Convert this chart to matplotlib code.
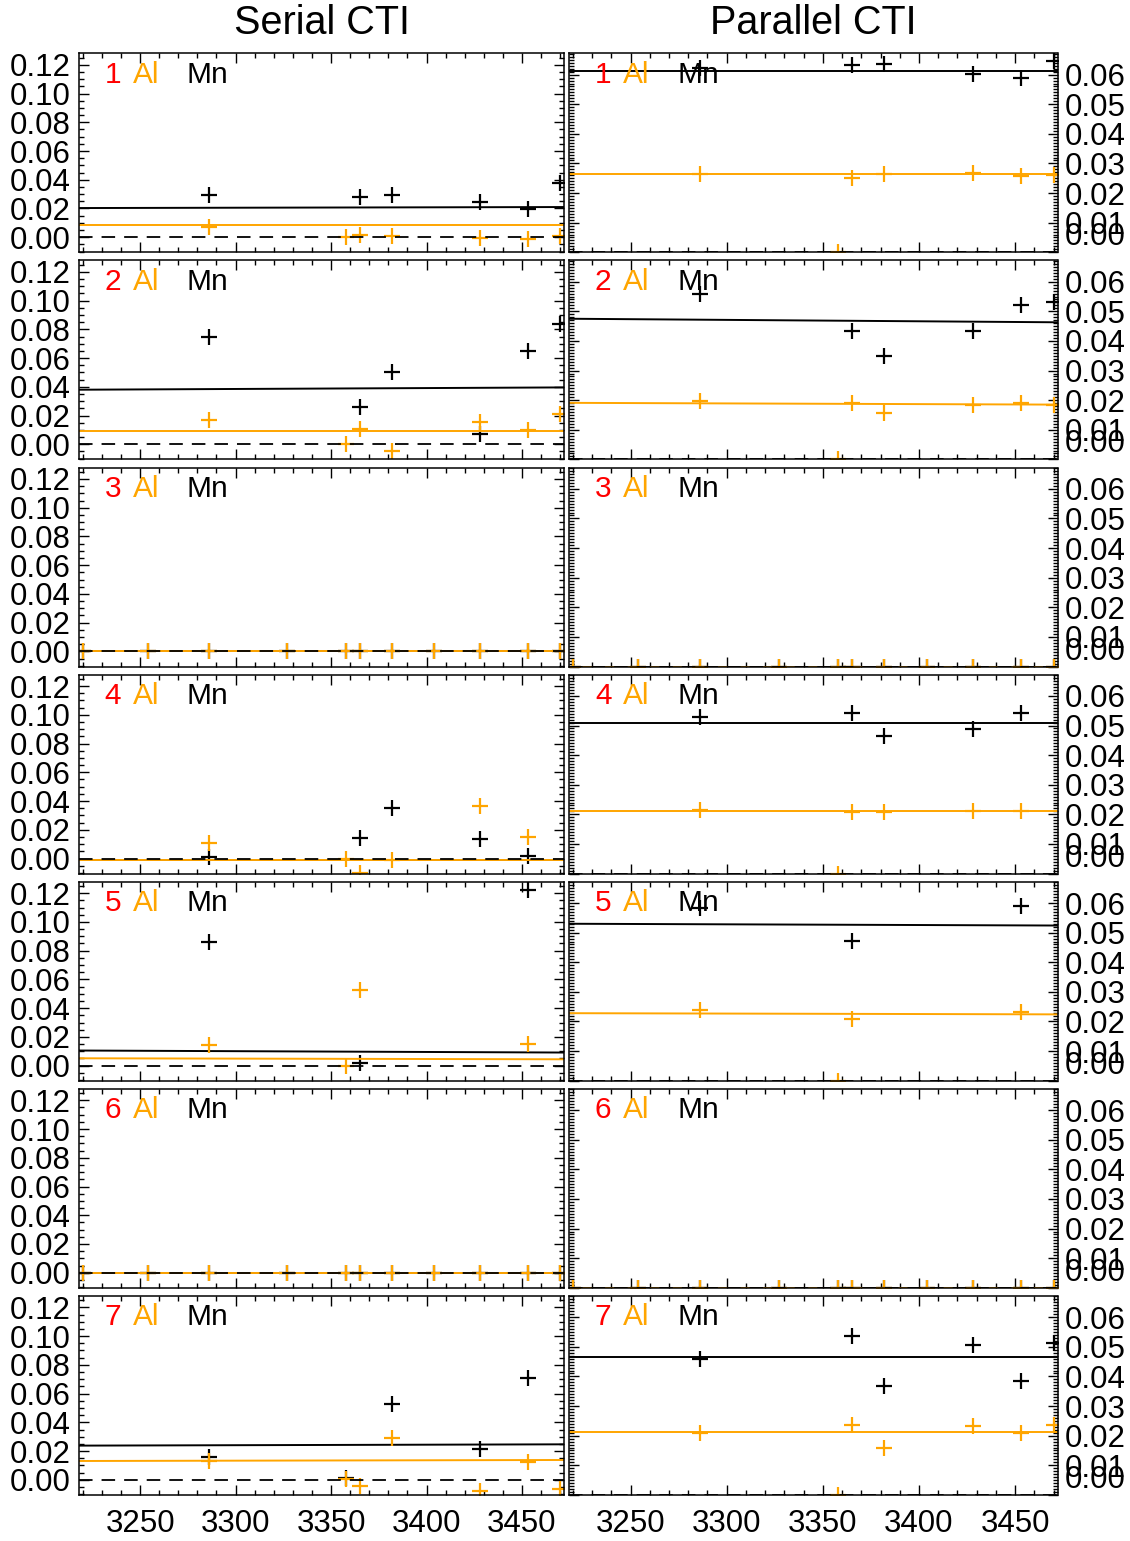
import numpy as np
import matplotlib.pyplot as plt
from matplotlib.ticker import MultipleLocator
from matplotlib.transforms import blended_transform_factory

plt.rcParams['font.family'] = ['Liberation Sans', 'DejaVu Sans']

n = np.nan

# observation dates (x) shared by every panel
xs = np.array([3220, 3254, 3286, 3327, 3358, 3365, 3382, 3404, 3428, 3453, 3470])
chips = ['1', '2', '3', '4', '5', '6', '7']
zeros = [0.0] * 11

# Serial CTI, Mn line
ser_mn = [
    [n, n, 0.0291, n, n, 0.0280, 0.0296, n, 0.0242, 0.0198, 0.0378],
    [n, n, 0.0750, n, n, 0.0263, 0.0504, n, 0.0075, 0.0652, 0.0837],
    zeros,
    [n, n, 0.0012, n, n, 0.0145, 0.0351, n, 0.0136, 0.0019, n],
    [n, n, 0.0861, n, n, 0.0021, n, n, n, 0.1223, n],
    zeros,
    [n, n, 0.0161, n, 0.0010, n, 0.0525, n, 0.0215, 0.0709, n],
]
# Serial CTI, Al line
ser_al = [
    [n, n, 0.0070, n, 0.0, 0.0012, 0.0005, n, -0.0005, -0.0012, 0.0007],
    [n, n, 0.0169, n, 0.0, 0.0106, -0.0049, n, 0.0152, 0.0103, 0.0211],
    zeros,
    [n, n, 0.0110, n, 0.0, -0.0098, -0.0012, n, 0.0363, 0.0147, n],
    [n, n, 0.0140, n, 0.0, 0.0525, n, n, n, 0.0152, n],
    zeros,
    [n, n, 0.0133, n, 0.0005, -0.0042, 0.0289, n, -0.0077, 0.0126, -0.0065],
]
# fitted lines: value at left and right end of the x range
ser_mn_fit = [(0.0203, 0.0210), (0.0380, 0.0396), (0, 0), (-0.0010, -0.0010),
              (0.0105, 0.0091), (0, 0), (0.0238, 0.0247)]
ser_al_fit = [(0.0082, 0.0082), (0.0096, 0.0096), (0, 0), (-0.0012, -0.0012),
              (0.0051, 0.0044), (0, 0), (0.0131, 0.0138)]

# Parallel CTI
par_mn = [
    [n, n, 0.0624, n, n, 0.0634, 0.0636, n, 0.0602, 0.0587, 0.0647],
    [n, n, 0.0557, n, n, 0.0435, 0.0348, n, 0.0435, 0.0522, 0.0531],
    zeros,
    [n, n, 0.0528, n, n, 0.0543, 0.0466, n, 0.0489, 0.0542, n],
    [n, n, 0.0583, n, n, 0.0471, n, n, n, 0.0590, n],
    zeros,
    [n, n, 0.0459, n, n, 0.0538, 0.0367, n, 0.0505, 0.0384, 0.0513],
]
par_al = [
    [n, n, 0.0264, n, 0.0, 0.0251, 0.0264, n, 0.0268, 0.0257, 0.0261],
    [n, n, 0.0196, n, 0.0, 0.0191, 0.0157, n, 0.0184, 0.0190, 0.0184],
    zeros,
    [n, n, 0.0216, n, 0.0, 0.0208, 0.0207, n, 0.0210, 0.0210, n],
    [n, n, 0.0238, n, 0.0, 0.0207, n, n, n, 0.0232, n],
    zeros,
    [n, n, 0.0208, n, 0.0, 0.0236, 0.0158, n, 0.0234, 0.0208, 0.0236],
]
par_mn_fit = [(0.0613, 0.0613), (0.0475, 0.0463), (0, 0), (0.0509, 0.0509),
              (0.0530, 0.0524), (0, 0), (0.0465, 0.0465)]
par_al_fit = [(0.0266, 0.0266), (0.0191, 0.0185), (0, 0), (0.0213, 0.0213),
              (0.0228, 0.0224), (0, 0), (0.0214, 0.0214)]

ser_ticks = [0.00, 0.02, 0.04, 0.06, 0.08, 0.10, 0.12]
par_ticks = [0.00, 0.01, 0.02, 0.03, 0.04, 0.05, 0.06]
x_ticks = [3250, 3300, 3350, 3400, 3450]

XL = (3218, 3472)
ORANGE = '#ffa500'
W, H = 1130, 1541
FS = 22.5

fig = plt.figure(figsize=(W / 100, H / 100), dpi=100)


def panel(ax, mn, al, mn_fit, al_fit, chip, ylim, right):
    ax.set_xlim(*XL)
    ax.set_ylim(*ylim)
    ax.plot(xs, mn, ls='none', marker='+', ms=11, mew=1.6, color='k')
    ax.plot(XL, mn_fit, color='k', lw=1.4)
    ax.plot(xs, al, ls='none', marker='+', ms=11, mew=1.6, color=ORANGE)
    ax.plot(XL, al_fit, color=ORANGE, lw=1.4)
    # zero reference, drawn on top
    ax.plot(XL, [0, 0], color='k', lw=1.3, ls=(0, (7.5, 5)), zorder=3)

    ax.xaxis.set_major_locator(MultipleLocator(50))
    ax.xaxis.set_minor_locator(MultipleLocator(10))
    ax.tick_params(which='both', direction='in', top=True, bottom=True,
                   left=True, right=True, labelsize=FS, width=1.0)
    ax.tick_params(which='major', length=7)
    ax.tick_params(which='minor', length=3.5)
    ax.tick_params(axis='x', pad=10)
    for s in ax.spines.values():
        s.set_linewidth(1.1)

    if right:
        ax.set_yticks(par_ticks)
        ax.set_yticklabels([''] + ['%.2f' % t for t in par_ticks[1:]])
        ax.yaxis.set_minor_locator(MultipleLocator(0.001))
        ax.tick_params(axis='y', labelleft=False, labelright=True, pad=5)
        tr = blended_transform_factory(ax.transAxes, ax.transData)
        ax.text(1.015, 0.0, '0.00', transform=tr, ha='left', va='bottom',
                fontsize=FS)
    else:
        ax.set_yticks(ser_ticks)
        ax.set_yticklabels(['%.2f' % t for t in ser_ticks])
        ax.yaxis.set_minor_locator(MultipleLocator(0.005))
        ax.tick_params(axis='y', pad=6)

    ax.text(0.053, 0.853, chip, color='red', fontsize=21.5, transform=ax.transAxes)
    ax.text(0.111, 0.853, 'Al', color=ORANGE, fontsize=21.5, transform=ax.transAxes)
    ax.text(0.222, 0.853, 'Mn', color='k', fontsize=21.5, transform=ax.transAxes)


for i in range(7):
    top = 53.3 + i * 207.1
    bot = 1 - (top + 199) / H
    axl = fig.add_axes([79 / W, bot, 485 / W, 199 / H])
    axr = fig.add_axes([569 / W, bot, 488.5 / W, 199 / H])
    panel(axl, ser_mn[i], ser_al[i], ser_mn_fit[i], ser_al_fit[i], chips[i],
          (-0.0105, 0.128), False)
    panel(axr, par_mn[i], par_al[i], par_mn_fit[i], par_al_fit[i], chips[i],
          (0.0, 0.0672), True)
    for ax in (axl, axr):
        ax.set_xticks(x_ticks)
        if i < 6:
            ax.tick_params(axis='x', labelbottom=False)

fig.text((79 + 485 / 2) / W, 1 - 23 / H, 'Serial CTI', ha='center', va='center',
         fontsize=28.5)
fig.text((569 + 488.5 / 2) / W, 1 - 23 / H, 'Parallel CTI', ha='center',
         va='center', fontsize=28.5)

fig.savefig('out.png', dpi=100)
